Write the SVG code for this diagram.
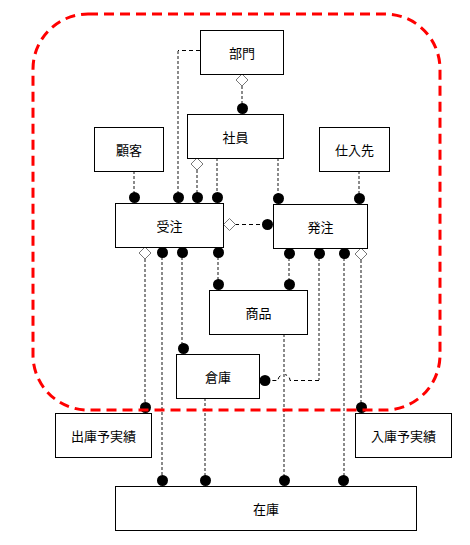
<svg xmlns="http://www.w3.org/2000/svg" width="470" height="545" viewBox="0 0 470 545">
<style>
.box{fill:#fff;stroke:#000;stroke-width:1}
.t{font-family:"Noto Sans CJK JP","Noto Sans",sans-serif;font-size:13px;fill:#000;text-anchor:middle;dominant-baseline:central}
.v{fill:none;stroke:#8a8a8a;stroke-width:2;stroke-dasharray:3,2}
.h{fill:none;stroke:#000;stroke-width:1;stroke-dasharray:4,3}
.dot{fill:#000}
.dia{fill:#fff;stroke:#777;stroke-width:1}
.zone{fill:none;stroke:#f00;stroke-width:3;stroke-dasharray:10,6}
</style>
<defs>
<path id="dm" d="M0,-6 L6,0 L0,6 L-6,0 Z"/>
</defs>
<rect width="470" height="545" fill="#fff"/>
<g id="connectors">
<path class="h" d="M200,50.5 H178"/>
<path class="v" d="M178,51 V197"/>
<circle class="dot" cx="178.5" cy="197.5" r="5.5"/>
<path class="v" d="M242,86 V108"/>
<use href="#dm" class="dia" x="242" y="80"/>
<circle class="dot" cx="242.5" cy="108.5" r="5.5"/>
<path class="v" d="M197,170 V197"/>
<use href="#dm" class="dia" x="197" y="164"/>
<circle class="dot" cx="197.5" cy="197.5" r="5.5"/>
<path class="v" d="M217,158 V197"/>
<circle class="dot" cx="217.5" cy="197.5" r="5.5"/>
<path class="v" d="M278,158 V198"/>
<circle class="dot" cx="278.5" cy="198.5" r="5.5"/>
<path class="v" d="M134,171 V197"/>
<circle class="dot" cx="134.5" cy="197.5" r="5.5"/>
<path class="v" d="M359,171 V198"/>
<circle class="dot" cx="359.5" cy="198.5" r="5.5"/>
<path class="h" d="M235,224.5 H268"/>
<use href="#dm" class="dia" x="229.5" y="224.5"/>
<circle class="dot" cx="267.5" cy="224.5" r="5.5"/>
<path class="v" d="M145,259 V407"/>
<use href="#dm" class="dia" x="145" y="253"/>
<circle class="dot" cx="145.5" cy="407.5" r="5.5"/>
<path class="v" d="M162,252 V480"/>
<circle class="dot" cx="162.5" cy="252.5" r="5.5"/>
<circle class="dot" cx="162.5" cy="480.5" r="5.5"/>
<path class="v" d="M182,252 V348"/>
<circle class="dot" cx="182.5" cy="252.5" r="5.5"/>
<circle class="dot" cx="183.5" cy="348.5" r="5.5"/>
<path class="v" d="M218,252 V284"/>
<circle class="dot" cx="218.5" cy="252.5" r="5.5"/>
<circle class="dot" cx="218.5" cy="284.5" r="5.5"/>
<path class="v" d="M289,253 V284"/>
<circle class="dot" cx="289.5" cy="253.5" r="5.5"/>
<circle class="dot" cx="289.5" cy="284.5" r="5.5"/>
<path class="v" d="M319,253 V380"/>
<path class="h" d="M319,380.5 H290 A6,6 0 0 0 278,380.5 H270"/>
<circle class="dot" cx="319.5" cy="253.5" r="5.5"/>
<circle class="dot" cx="265" cy="380.5" r="5.5"/>
<path class="v" d="M344,253 V480"/>
<circle class="dot" cx="344.5" cy="253.5" r="5.5"/>
<circle class="dot" cx="343.5" cy="480.5" r="5.5"/>
<path class="v" d="M361,260 V407"/>
<use href="#dm" class="dia" x="361" y="254"/>
<circle class="dot" cx="361.5" cy="407.5" r="5.5"/>
<path class="v" d="M284,334 V480"/>
<circle class="dot" cx="284.5" cy="480.5" r="5.5"/>
<path class="v" d="M205,398 V480"/>
<circle class="dot" cx="205.5" cy="480.5" r="5.5"/>
</g>
<g id="n-bumon"><rect class="box" x="200.5" y="30.5" width="83" height="44"/><text class="t" x="242" y="52.5">部門</text></g>
<g id="n-shain"><rect class="box" x="187.5" y="114.5" width="96" height="44"/><text class="t" x="235.5" y="136.5">社員</text></g>
<g id="n-kokyaku"><rect class="box" x="94.5" y="127.5" width="69" height="44"/><text class="t" x="129" y="149.5">顧客</text></g>
<g id="n-shiiresaki"><rect class="box" x="319.5" y="127.5" width="70" height="44"/><text class="t" x="354.5" y="149.5">仕入先</text></g>
<g id="n-juchu"><rect class="box" x="115.5" y="203.5" width="108" height="44"/><text class="t" x="169.5" y="225.5">受注</text></g>
<g id="n-hatchu"><rect class="box" x="273.5" y="204.5" width="94" height="44"/><text class="t" x="320.5" y="226.5">発注</text></g>
<g id="n-shohin"><rect class="box" x="209.5" y="290.5" width="98" height="44"/><text class="t" x="258.5" y="312.5">商品</text></g>
<g id="n-soko"><rect class="box" x="176.5" y="354.5" width="83" height="44"/><text class="t" x="218" y="376.5">倉庫</text></g>
<g id="n-shukko"><rect class="box" x="55.5" y="413.5" width="96" height="44"/><text class="t" x="103.5" y="435.5">出庫予実績</text></g>
<g id="n-nyuko"><rect class="box" x="355.5" y="413.5" width="96" height="44"/><text class="t" x="403.5" y="435.5">入庫予実績</text></g>
<g id="n-zaiko"><rect class="box" x="115.5" y="486.5" width="301" height="44"/><text class="t" x="266" y="508.5">在庫</text></g>
<rect id="zone" class="zone" x="33" y="14" width="407" height="396" rx="55" ry="55"/>
</svg>
